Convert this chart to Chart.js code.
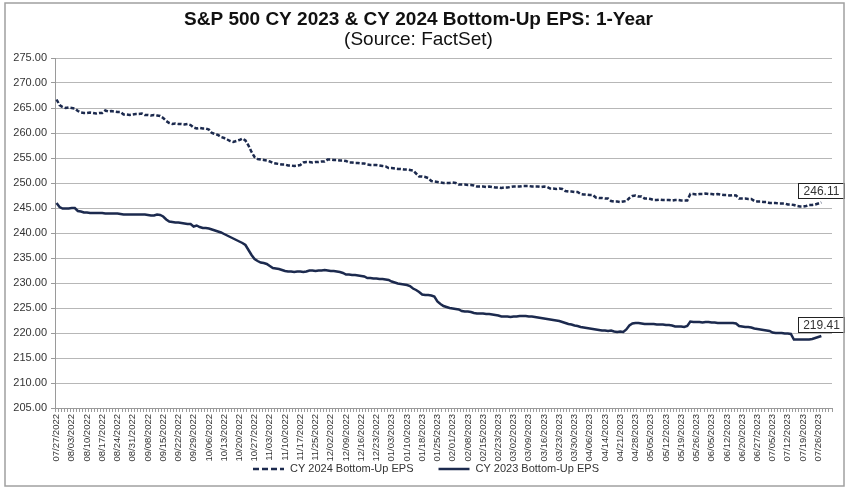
<!DOCTYPE html>
<html>
<head>
<meta charset="utf-8">
<title>S&amp;P 500 CY 2023 &amp; CY 2024 Bottom-Up EPS</title>
<script src="https://cdn.jsdelivr.net/npm/chart.js@4.4.0/dist/chart.umd.min.js"></script>
<style>
  html, body { margin: 0; padding: 0; background: #fff; }
  #wrap { width: 852px; height: 489px; }
</style>
</head>
<body>
<div id="wrap"><canvas id="eps-chart" width="852" height="489"></canvas></div>
<script>
// weekly tick labels (every 5th trading day)
var tickLabels = [
  '07/27/2022', '08/03/2022', '08/10/2022', '08/17/2022', '08/24/2022', '08/31/2022',
  '09/08/2022', '09/15/2022', '09/22/2022', '09/29/2022', '10/06/2022', '10/13/2022',
  '10/20/2022', '10/27/2022', '11/03/2022', '11/10/2022', '11/17/2022', '11/25/2022',
  '12/02/2022', '12/09/2022', '12/16/2022', '12/23/2022', '01/03/2023', '01/10/2023',
  '01/18/2023', '01/25/2023', '02/01/2023', '02/08/2023', '02/15/2023', '02/23/2023',
  '03/02/2023', '03/09/2023', '03/16/2023', '03/23/2023', '03/30/2023', '04/06/2023',
  '04/14/2023', '04/21/2023', '04/28/2023', '05/05/2023', '05/12/2023', '05/19/2023',
  '05/26/2023', '06/05/2023', '06/12/2023', '06/20/2023', '06/27/2023', '07/05/2023',
  '07/12/2023', '07/19/2023', '07/26/2023'
];
var daysPerTick = 5;
var categoryCount = 255; // trading days on the axis

// daily bottom-up EPS, CY 2024
var cy2024 = [
  266.7, 265.6, 265.2, 265.0, 265.1, 265.0, 264.9, 264.4, 264.1, 264.0,
  264.0, 264.1, 264.0, 263.9, 264.0, 264.0, 264.5, 264.3, 264.4, 264.3,
  264.2, 264.2, 263.7, 263.7, 263.6, 263.7, 263.8, 263.8, 263.9, 263.6,
  263.6, 263.5, 263.6, 263.5, 263.4, 263.0, 262.4, 262.0, 261.8, 261.9,
  261.8, 261.8, 261.7, 261.8, 261.6, 261.1, 260.9, 261.0, 260.9, 260.9,
  260.7, 260.0, 259.8, 259.6, 259.2, 259.0, 258.7, 258.4, 258.2, 258.4,
  258.6, 258.9, 258.5, 257.5, 256.2, 255.2, 254.8, 254.7, 254.6, 254.5,
  254.3, 254.0, 253.9, 253.8, 253.7, 253.7, 253.5, 253.5, 253.4, 253.5,
  253.6, 254.1, 254.2, 254.2, 254.1, 254.2, 254.2, 254.3, 254.3, 254.7,
  254.7, 254.6, 254.6, 254.5, 254.5, 254.4, 254.1, 254.1, 254.0, 254.0,
  253.9, 253.9, 253.7, 253.6, 253.6, 253.6, 253.5, 253.4, 253.3, 253.0,
  253.0, 252.9, 252.8, 252.8, 252.7, 252.7, 252.6, 252.5, 251.9, 251.3,
  251.3, 251.2, 251.0, 250.4, 250.3, 250.2, 250.1, 250.0, 250.0, 250.0,
  250.1, 250.0, 249.7, 249.7, 249.7, 249.6, 249.6, 249.5, 249.3, 249.3,
  249.3, 249.2, 249.3, 249.2, 249.1, 249.1, 249.0, 249.1, 249.1, 249.2,
  249.3, 249.3, 249.3, 249.4, 249.4, 249.4, 249.3, 249.3, 249.3, 249.2,
  249.3, 249.2, 248.9, 248.9, 248.8, 248.9, 248.8, 248.4, 248.3, 248.3,
  248.2, 248.2, 247.8, 247.7, 247.7, 247.6, 247.6, 247.1, 247.0, 247.0,
  246.9, 246.9, 246.4, 246.3, 246.3, 246.2, 246.3, 246.4, 247.0, 247.4,
  247.5, 247.3, 247.3, 246.9, 246.9, 246.8, 246.6, 246.6, 246.7, 246.6,
  246.6, 246.6, 246.5, 246.6, 246.6, 246.5, 246.5, 246.5, 247.8, 247.8,
  247.7, 247.8, 247.8, 247.9, 247.8, 247.8, 247.7, 247.8, 247.7, 247.6,
  247.6, 247.5, 247.6, 247.5, 246.9, 246.9, 246.9, 246.8, 246.8, 246.4,
  246.3, 246.3, 246.2, 246.2, 246.0, 246.0, 246.0, 245.9, 245.9, 245.9,
  245.7, 245.7, 245.6, 245.4, 245.3, 245.3, 245.4, 245.6, 245.6, 245.7,
  245.9, 246.11
];

// daily bottom-up EPS, CY 2023
var cy2023 = [
  246.0, 245.2, 244.9, 244.9, 244.9, 245.0, 245.0, 244.4, 244.3, 244.1,
  244.1, 244.0, 244.0, 244.0, 244.0, 244.0, 243.9, 243.9, 243.9, 243.9,
  243.9, 243.8, 243.7, 243.7, 243.7, 243.7, 243.7, 243.7, 243.7, 243.7,
  243.6, 243.5, 243.5, 243.7, 243.6, 243.3, 242.7, 242.3, 242.2, 242.1,
  242.1, 242.0, 241.9, 241.8, 241.8, 241.3, 241.5, 241.2, 241.0, 241.0,
  240.9, 240.7, 240.5, 240.3, 240.1, 239.8, 239.5, 239.2, 238.9, 238.6,
  238.3, 238.0, 237.6, 236.6, 235.6, 234.8, 234.4, 234.1, 234.0, 233.8,
  233.4, 233.0, 232.9, 232.8, 232.6, 232.4, 232.3, 232.3, 232.2, 232.3,
  232.3, 232.2, 232.3, 232.5, 232.5, 232.4, 232.5, 232.5, 232.6, 232.5,
  232.4, 232.4, 232.3, 232.2, 232.0, 231.7, 231.7, 231.6, 231.6, 231.5,
  231.4, 231.3, 231.0, 231.0, 230.9, 230.9, 230.8, 230.8, 230.7, 230.6,
  230.3, 230.1, 229.9, 229.8, 229.7, 229.6, 229.4, 228.9, 228.6, 228.2,
  227.7, 227.6, 227.6, 227.5, 227.3, 226.3, 225.8, 225.4, 225.2, 225.0,
  224.9, 224.8, 224.7, 224.4, 224.3, 224.3, 224.2, 224.0, 223.9, 223.9,
  223.9, 223.8, 223.8, 223.7, 223.6, 223.5, 223.3, 223.3, 223.3, 223.2,
  223.3, 223.3, 223.4, 223.4, 223.4, 223.3, 223.3, 223.2, 223.1, 223.0,
  222.9, 222.8, 222.7, 222.6, 222.5, 222.4, 222.2, 222.0, 221.8, 221.7,
  221.5, 221.4, 221.2, 221.1, 221.0, 220.9, 220.8, 220.7, 220.6, 220.5,
  220.5, 220.4, 220.5, 220.3, 220.2, 220.3, 220.2, 220.7, 221.5, 221.9,
  222.0, 222.0, 221.9, 221.8, 221.8, 221.8, 221.8, 221.7, 221.7, 221.7,
  221.6, 221.6, 221.5, 221.3, 221.3, 221.3, 221.2, 221.4, 222.3, 222.2,
  222.2, 222.2, 222.1, 222.2, 222.2, 222.1, 222.1, 222.0, 222.0, 222.0,
  222.0, 222.0, 222.0, 221.9, 221.4, 221.3, 221.2, 221.2, 221.1, 220.9,
  220.8, 220.7, 220.6, 220.5, 220.4, 220.1, 220.0, 220.0, 220.0, 219.9,
  219.9, 219.8, 218.7, 218.7, 218.7, 218.7, 218.7, 218.7, 218.8, 219.0,
  219.2, 219.41
];

var yMin = 205, yMax = 275, yStep = 5;

var FONT = '"Liberation Sans", Arial, Helvetica, sans-serif';
var NAVY = '#1c2a4e';

// one category per trading day, only every 5th one gets a label
var categories = [];
for (var i = 0; i < categoryCount; i++) {
  var t = i / daysPerTick;
  categories.push(i % daysPerTick === 0 && tickLabels[t] ? tickLabels[t] : '');
}

// gray frame around the whole picture
var framePlugin = {
  id: 'frame',
  afterDraw: function (chart) {
    var ctx = chart.ctx;
    ctx.save();
    ctx.strokeStyle = '#a0a0a0';
    ctx.lineWidth = 1.5;
    ctx.strokeRect(5, 3, 839, 483);
    ctx.restore();
  }
};

// boxed value at the end of each line
var endLabelPlugin = {
  id: 'endLabels',
  afterDatasetsDraw: function (chart) {
    var ctx = chart.ctx;
    ctx.save();
    ctx.font = '12px ' + FONT;
    ctx.textAlign = 'center';
    ctx.textBaseline = 'middle';
    chart.data.datasets.forEach(function (ds, di) {
      var meta = chart.getDatasetMeta(di);
      var last = -1;
      ds.data.forEach(function (v, k) { if (v !== null) { last = k; } });
      if (last < 0) { return; }
      var pt = meta.data[last];
      var text = ds.data[last].toFixed(2);
      var w = 46, h = 15;
      var bx = Math.round(pt.x - w / 2) + 0.5;
      var by = Math.round(pt.y - 4 - h) + 0.5;
      ctx.fillStyle = '#fff';
      ctx.fillRect(bx, by, w, h);
      ctx.strokeStyle = '#222';
      ctx.lineWidth = 1;
      ctx.strokeRect(bx, by, w, h);
      ctx.fillStyle = '#333';
      ctx.fillText(text, bx + w / 2, by + h / 2 + 0.5);
    });
    ctx.restore();
  }
};

// legend drawn under the axis labels
var legendPlugin = {
  id: 'bottomLegend',
  afterDraw: function (chart) {
    var ctx = chart.ctx;
    var items = [
      { text: chart.data.datasets[0].label, dash: [6, 3] },
      { text: chart.data.datasets[1].label, dash: [] }
    ];
    var sample = 31, textGap = 6, itemGap = 25, y = 469;
    ctx.save();
    ctx.font = '11px ' + FONT;
    var total = 0;
    items.forEach(function (it, k) {
      it.w = ctx.measureText(it.text).width;
      total += sample + textGap + it.w + (k ? itemGap : 0);
    });
    var x = chart.width / 2 - total / 2;
    items.forEach(function (it) {
      ctx.beginPath();
      ctx.setLineDash(it.dash);
      ctx.strokeStyle = NAVY;
      ctx.lineWidth = 2.5;
      ctx.moveTo(x, y);
      ctx.lineTo(x + sample, y);
      ctx.stroke();
      ctx.setLineDash([]);
      ctx.fillStyle = '#333';
      ctx.textAlign = 'left';
      ctx.textBaseline = 'middle';
      ctx.fillText(it.text, x + sample + textGap, y);
      x += sample + textGap + it.w + itemGap;
    });
    ctx.restore();
  }
};

var ctx = document.getElementById('eps-chart').getContext('2d');

new Chart(ctx, {
  type: 'line',
  data: {
    labels: categories,
    datasets: [{
      label: 'CY 2024 Bottom-Up EPS',
      data: cy2024,
      borderColor: NAVY,
      borderWidth: 2.5,
      borderDash: [4, 2],
      pointRadius: 0,
      tension: 0,
      fill: false
    }, {
      label: 'CY 2023 Bottom-Up EPS',
      data: cy2023,
      borderColor: NAVY,
      borderWidth: 2.5,
      pointRadius: 0,
      tension: 0,
      fill: false
    }]
  },
  options: {
    responsive: false,
    animation: false,
    events: [],
    layout: {
      padding: { left: 5, right: 20, top: 0, bottom: 0 }
    },
    plugins: {
      legend: { display: false },
      tooltip: { enabled: false },
      title: {
        display: true,
        text: 'S&P 500 CY 2023 & CY 2024 Bottom-Up EPS: 1-Year',
        color: '#111',
        font: { family: FONT, size: 19, weight: 'bold', lineHeight: 1 },
        padding: { top: 10, bottom: 0 }
      },
      subtitle: {
        display: true,
        text: '(Source: FactSet)',
        color: '#111',
        font: { family: FONT, size: 19, weight: 'normal', lineHeight: 1 },
        padding: { top: 1, bottom: 9 }
      }
    },
    scales: {
      x: {
        type: 'category',
        offset: true,
        grid: {
          display: true,
          offset: true,
          drawOnChartArea: false,
          drawTicks: true,
          tickLength: 4,
          tickColor: '#9a9a9a'
        },
        border: { display: true, color: '#9a9a9a' },
        ticks: {
          autoSkip: false,
          maxRotation: 90,
          minRotation: 90,
          padding: 2,
          color: '#333',
          font: { family: FONT, size: 9.5 }
        },
        afterFit: function (scale) { scale.height = 81; }
      },
      y: {
        min: yMin,
        max: yMax,
        grid: {
          color: '#b7b7b7',
          tickLength: 4,
          tickColor: '#9a9a9a'
        },
        border: { display: true, color: '#9a9a9a' },
        ticks: {
          stepSize: yStep,
          padding: 4,
          color: '#333',
          font: { family: FONT, size: 11 },
          callback: function (value) { return value.toFixed(2); }
        },
        afterFit: function (scale) { scale.width = 50; }
      }
    }
  },
  plugins: [framePlugin, endLabelPlugin, legendPlugin]
});
</script>
</body>
</html>
